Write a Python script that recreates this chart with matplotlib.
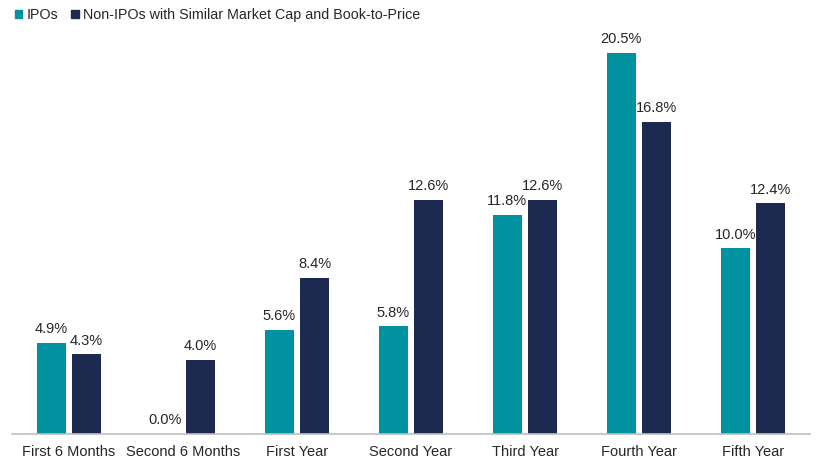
import numpy as np
import matplotlib.pyplot as plt
from matplotlib.patches import Patch

plt.rcParams['font.family'] = ['Liberation Sans', 'DejaVu Sans']

periods = ['First 6 Months', 'Second 6 Months', 'First Year', 'Second Year',
           'Third Year', 'Fourth Year', 'Fifth Year']
ipo = [4.9, 0.0, 5.6, 5.8, 11.8, 20.5, 10.0]
non_ipo = [4.3, 4.0, 8.4, 12.6, 12.6, 16.8, 12.4]

teal = '#0092A0'
navy = '#1B2A4E'
txt = '#262626'

fig = plt.figure(figsize=(8.21, 4.70), dpi=100)
ax = fig.add_axes([12/821, 36/470, 798/821, 409/470])

x = np.arange(len(periods))
w = 0.25
off = 0.155
b1 = ax.bar(x - off, ipo, w, color=teal)
b2 = ax.bar(x + off, non_ipo, w, color=navy)

for bars, vals in ((b1, ipo), (b2, non_ipo)):
    for r, v in zip(bars, vals):
        ax.text(r.get_x() + r.get_width()/2, v + 0.35, f'{v:.1f}%',
                ha='center', va='bottom', fontsize=10.5, color=txt)

ax.set_xlim(-0.5, len(periods) - 0.5)
ax.set_ylim(0, 22)
ax.set_xticks(x)
ax.set_xticklabels(periods, fontsize=10.5, color=txt)
ax.tick_params(axis='x', length=0, pad=8)
ax.set_yticks([])
for s in ['top', 'right', 'left']:
    ax.spines[s].set_visible(False)
ax.spines['bottom'].set_color('#bfbfbf')
ax.spines['bottom'].set_linewidth(1.2)

handles = [Patch(color=teal, label='IPOs'),
           Patch(color=navy, label='Non-IPOs with Similar Market Cap and Book-to-Price')]
fig.legend(handles=handles, loc='upper left', bbox_to_anchor=(0.002, 1.01),
           ncol=2, frameon=False, fontsize=10.3, handlelength=0.55,
           handleheight=0.55, handletextpad=0.3, columnspacing=0.9,
           labelcolor=txt)

fig.savefig('out.png', dpi=100)
